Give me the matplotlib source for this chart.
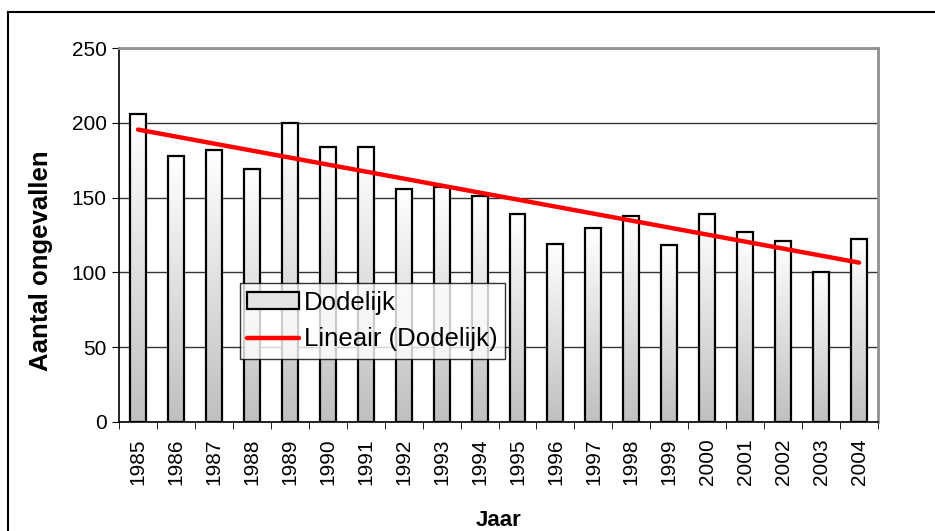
import numpy as np
import matplotlib
matplotlib.use("Agg")
import matplotlib.pyplot as plt
from matplotlib.patches import Patch
from matplotlib.lines import Line2D

plt.rcParams['font.family'] = ['Liberation Sans', 'DejaVu Sans']

# data
jaren = [1985, 1986, 1987, 1988, 1989, 1990, 1991, 1992, 1993, 1994,
         1995, 1996, 1997, 1998, 1999, 2000, 2001, 2002, 2003, 2004]
dodelijk = [206, 178, 182, 169, 200, 184, 184, 156, 157, 151,
            139, 119, 130, 138, 118, 139, 127, 121, 100, 122]
yticks = [0, 50, 100, 150, 200, 250]

fig = plt.figure(figsize=(9.35, 5.31), dpi=100)
ax = fig.add_axes([0.1273, 0.2053, 0.8118, 0.7043])

x = np.arange(len(jaren))
breedte = 0.42

# balken met verloop (wit boven, grijs onder)
verloop = np.linspace(1.0, 0.75, 100).reshape(-1, 1)
for xi, h in zip(x, dodelijk):
    ax.imshow(verloop, cmap='gray', vmin=0, vmax=1, aspect='auto',
              extent=[xi - breedte / 2, xi + breedte / 2, 0, h], zorder=2,
              interpolation='bicubic')
ax.bar(x, dodelijk, width=breedte, facecolor='none', edgecolor='black',
       linewidth=1.6, zorder=3)

# lineaire trendlijn
a, b = np.polyfit(x, dodelijk, 1)
ax.plot(x, a * x + b, color='#ff0000', linewidth=3.2, solid_capstyle='round', zorder=4)

ax.set_xlim(-0.5, len(jaren) - 0.5)
ax.set_ylim(0, 250)
ax.set_yticks(yticks)
ax.set_xticks(x)
ax.set_xticklabels([str(j) for j in jaren], rotation=90)
ax.set_xticks(np.arange(-0.5, len(jaren), 1), minor=True)
ax.tick_params(axis='x', which='major', length=0, labelsize=15, pad=12)
ax.tick_params(axis='x', which='minor', length=5, direction='out', color='black')
ax.tick_params(axis='y', length=5, direction='out', labelsize=15, pad=4)

ax.yaxis.grid(True, color='#333333', linewidth=1)
ax.set_axisbelow(True)

for s in ['left', 'bottom']:
    ax.spines[s].set_color('black')
    ax.spines[s].set_linewidth(1.2)
for s in ['top', 'right']:
    ax.spines[s].set_color('#909090')
    ax.spines[s].set_linewidth(2)

ax.set_ylabel('Aantal ongevallen', fontsize=18.5, fontweight='bold')
ax.yaxis.set_label_coords(-0.087, 0.43)
ax.set_xlabel('Jaar', fontsize=16, fontweight='bold', labelpad=18)

handles = [Patch(facecolor='#e4e4e4', edgecolor='black', linewidth=1.6, label='Dodelijk'),
           Line2D([0], [0], color='#ff0000', linewidth=3.2, solid_capstyle='round',
                  label='Lineair (Dodelijk)')]
leg = ax.legend(handles=handles, loc='upper left', bbox_to_anchor=(0.159, 0.372),
                fontsize=18.5, frameon=True, fancybox=False, borderpad=0.3,
                handlelength=2.0, handleheight=0.65, handletextpad=0.2,
                labelspacing=0.5, borderaxespad=0)
leg.get_frame().set_edgecolor('black')
leg.get_frame().set_linewidth(1)
leg.set_zorder(5)

# buitenrand
fig.add_artist(Line2D([0.009, 0.009], [0, 0.9774], color='black', linewidth=1.5))
fig.add_artist(Line2D([0.009, 1.0], [0.9774, 0.9774], color='black', linewidth=1.5))

fig.savefig('out.png', dpi=100)
